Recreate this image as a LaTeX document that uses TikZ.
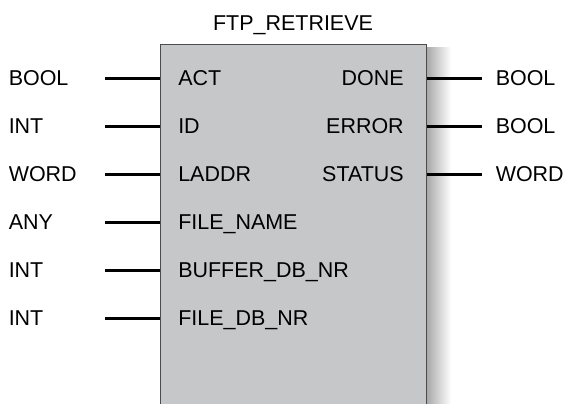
\documentclass[tikz,border=0pt]{standalone}
\usepackage{fontspec}
\setmainfont{Liberation Sans}
\usetikzlibrary{positioning,calc}
\definecolor{fbgray}{RGB}{198,199,201}
\tikzset{
  pinlabel/.style={inner sep=0pt, font=\fontsize{16.1}{18}\selectfont},
  wire/.style={line width=2.25pt},
  fblock/.style={draw=black!70, fill=fbgray, line width=0.75pt, inner sep=0pt,
    minimum width=199.5pt, minimum height=274.5pt}
}
\begin{document}
\begin{tikzpicture}[x=0.75pt,y=-0.75pt]
\useasboundingbox (0,0) rectangle (566,403);
\clip (0,0) rectangle (566,403);

% Shadow
\shade[left color=black!35,right color=white] (426,48) rectangle (451,403);

% Block and title
\node[fblock,anchor=north west] (fb) at (160,44) {};
\node[pinlabel,anchor=base] (title) at (293,31) {FTP\_RETRIEVE};

% Inputs
\foreach \k/\typ/\pin in {0/BOOL/ACT, 1/INT/ID, 2/WORD/LADDR, 3/ANY/FILE\_NAME,
    4/INT/BUFFER\_DB\_NR, 5/INT/FILE\_DB\_NR}{
  \pgfmathsetmacro\y{78+48*\k}
  \node[pinlabel,anchor=base west] (intype\k) at (8.5,\y+7.5) {\typ};
  \node[pinlabel,anchor=base west] (inpin\k) at (178,\y+7.5) {\pin};
  \coordinate (inend\k) at (105,\y);
  \draw[wire] (inend\k) -- (fb.west |- inend\k);
}

% Outputs
\foreach \k/\pin/\typ in {0/DONE/BOOL, 1/ERROR/BOOL, 2/STATUS/WORD}{
  \pgfmathsetmacro\y{78+48*\k}
  \node[pinlabel,anchor=base east] (outpin\k) at (404,\y+7.5) {\pin};
  \node[pinlabel,anchor=base west] (outtype\k) at (495.5,\y+7.5) {\typ};
  \coordinate (outend\k) at (482,\y);
  \draw[wire] (fb.east |- outend\k) -- (outend\k);
}
\end{tikzpicture}
\end{document}
